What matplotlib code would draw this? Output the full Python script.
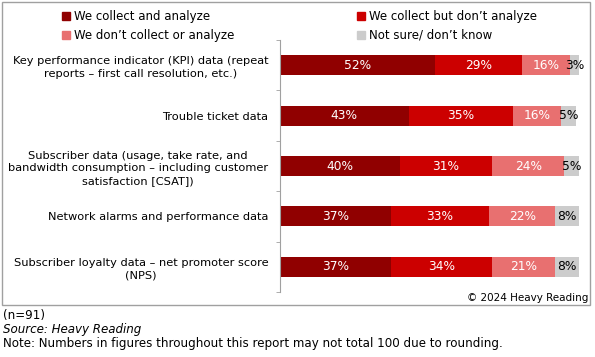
import numpy as np
import matplotlib.pyplot as plt
from matplotlib.patches import Patch, Rectangle

plt.rcParams['font.family'] = 'DejaVu Sans'

categories = ["Key performance indicator (KPI) data (repeat\nreports \u2013 first call resolution, etc.)",
              "Trouble ticket data",
              "Subscriber data (usage, take rate, and\nbandwidth consumption \u2013 including customer\nsatisfaction [CSAT])",
              "Network alarms and performance data",
              "Subscriber loyalty data \u2013 net promoter score\n(NPS)"]
series = ["We collect and analyze", "We collect but don\u2019t analyze",
          "We don\u2019t collect or analyze", "Not sure/ don\u2019t know"]
collect_analyze = [52, 43, 40, 37, 37]
collect_no_analyze = [29, 35, 31, 33, 34]
no_collect = [16, 16, 24, 22, 21]
not_sure = [3, 5, 5, 8, 8]

colors = ['#900000', '#CC0000', '#E87070', '#CCCCCC']
text_colors = ['white', 'white', 'white', 'black']

fig = plt.figure(figsize=(5.95, 3.57), dpi=100)
ax = fig.add_axes([280/595, 1-292/357, 299/595, 252/357])

y = np.arange(len(categories))
left = np.zeros(len(categories))
for vals, c, tc, name in zip([collect_analyze, collect_no_analyze, no_collect, not_sure],
                             colors, text_colors, series):
    vals = np.array(vals)
    ax.barh(y, vals, left=left, height=0.4, color=c, label=name)
    for yi, l, v in zip(y, left, vals):
        ax.text(l + v/2, yi, f"{v}%", ha='center', va='center', color=tc, fontsize=8.8)
    left = left + vals

ax.set_xlim(0, 100)
ax.set_ylim(4.5, -0.5)
ax.set_yticks(y)
ax.set_yticklabels(categories, fontsize=8.2, ha='right', multialignment='center', linespacing=1.35)
ax.tick_params(axis='y', which='major', length=0, pad=8.5)
ax.set_yticks(np.arange(-0.5, 5, 1), minor=True)
ax.tick_params(axis='y', which='minor', length=3, color='#A0A0A0')
ax.set_xticks([])
for s in ['top', 'right', 'bottom']:
    ax.spines[s].set_visible(False)
ax.spines['left'].set_color('#A0A0A0')

# legend, two columns
h = [Patch(color=c) for c in colors]
kw = dict(frameon=False, fontsize=8.5, handlelength=0.65, handleheight=0.65,
          handletextpad=0.35, labelspacing=0.5, borderaxespad=0, borderpad=0)
fig.legend([h[0], h[2]], [series[0], series[2]], loc='upper left',
           bbox_to_anchor=(62/595, 1-10/357), **kw)
fig.legend([h[1], h[3]], [series[1], series[3]], loc='upper left',
           bbox_to_anchor=(357/595, 1-10/357), **kw)

# frame around chart
fig.add_artist(Rectangle((2/595, 1-305/357), 588/595, 303/357, transform=fig.transFigure,
                         fill=False, edgecolor='#A0A0A0', linewidth=1))
fig.text(588/595, 1-298/357, "\u00a9 2024 Heavy Reading", ha='right', va='center', fontsize=7.5)

fig.text(3/595, 1-316/357, "(n=91)", ha='left', va='center', fontsize=8.6)
fig.text(3/595, 1-330/357, "Source: Heavy Reading", ha='left', va='center', fontsize=8.6, style='italic')
fig.text(3/595, 1-344/357, "Note: Numbers in figures throughout this report may not total 100 due to rounding.",
         ha='left', va='center', fontsize=8.6)

fig.savefig('out.png', dpi=100)
